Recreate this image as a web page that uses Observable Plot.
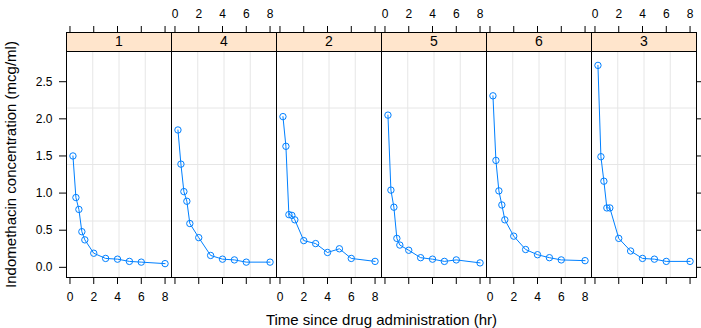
<!DOCTYPE html>
<html>
<head>
<meta charset="utf-8">
<script src="https://cdn.jsdelivr.net/npm/d3@7"></script>
<script src="https://cdn.jsdelivr.net/npm/@observablehq/plot@0.6"></script>
<style>
  body { margin: 0; background: #fff; }
</style>
</head>
<body>
<div id="chart"></div>
<script>
// Panel order (subjects ordered by maximum concentration)
const subjects = ["1", "4", "2", "5", "6", "3"];
// Sampling times (hr)
const times = [0.25, 0.5, 0.75, 1, 1.25, 2, 3, 4, 5, 6, 8];
// Concentrations (mcg/ml) per subject
const conc1 = [1.50, 0.94, 0.78, 0.48, 0.37, 0.19, 0.12, 0.11, 0.08, 0.07, 0.05];
const conc2 = [2.03, 1.63, 0.71, 0.70, 0.64, 0.36, 0.32, 0.20, 0.25, 0.12, 0.08];
const conc3 = [2.72, 1.49, 1.16, 0.80, 0.80, 0.39, 0.22, 0.12, 0.11, 0.08, 0.08];
const conc4 = [1.85, 1.39, 1.02, 0.89, 0.59, 0.40, 0.16, 0.11, 0.10, 0.07, 0.07];
const conc5 = [2.05, 1.04, 0.81, 0.39, 0.30, 0.23, 0.13, 0.11, 0.08, 0.10, 0.06];
const conc6 = [2.31, 1.44, 1.03, 0.84, 0.64, 0.42, 0.24, 0.17, 0.13, 0.10, 0.09];
// Tick labels
const xTicks = [0, 2, 4, 6, 8];
const yTicks = [0, 0.5, 1, 1.5, 2, 2.5];
const xLabel = "Time since drug administration (hr)";
const yLabel = "Indomethacin concentration (mcg/ml)";

const concBySubject = {"1": conc1, "2": conc2, "3": conc3, "4": conc4, "5": conc5, "6": conc6};
const data = [];
for (const s of subjects) {
  concBySubject[s].forEach((c, i) => data.push({subject: s, time: times[i], conc: c}));
}

// lattice-style padded limits (7% of range on each side)
function padded(ext) { const p = (ext[1] - ext[0]) * 0.07; return [ext[0] - p, ext[1] + p]; }
const xDom = padded(d3.extent(data, d => d.time));
const yDom = padded(d3.extent(data, d => d.conc));
// panel.grid(h = 3, v = 3): equally spaced reference lines
const gridX = [1, 2, 3].map(k => xDom[0] + k * (xDom[1] - xDom[0]) / 4);
const gridY = [1, 2, 3].map(k => yDom[0] + k * (yDom[1] - yDom[0]) / 4);

// tick labels alternate: bottom on panels 1,3,5; top on panels 2,4,6
const bottomLabels = [], topLabels = [];
subjects.forEach((s, i) => xTicks.forEach(t => (i % 2 === 0 ? bottomLabels : topLabels).push({subject: s, t})));

const H = 328, MT = 51, MB = 51, FH = H - MT - MB;
const blue = "#0080ff";

const chart = Plot.plot({
  width: 701,
  height: H,
  marginLeft: 65,
  marginRight: 4,
  marginTop: MT,
  marginBottom: MB,
  style: {fontFamily: "'Liberation Sans', Arial, Helvetica, sans-serif", background: "white", color: "black"},
  fx: {domain: subjects, padding: 0, axis: null, label: null},
  x: {domain: xDom, label: null},
  y: {domain: yDom, label: null},
  marks: [
    Plot.ruleX(gridX, {stroke: "#e6e6e6", strokeWidth: 1}),
    Plot.ruleY(gridY, {stroke: "#e6e6e6", strokeWidth: 1}),
    Plot.line(data, {x: "time", y: "conc", fx: "subject", stroke: blue, strokeWidth: 1}),
    Plot.dot(data, {x: "time", y: "conc", fx: "subject", r: 3.2, stroke: blue, fill: "none", strokeWidth: 1}),
    Plot.frame({stroke: "black", strokeWidth: 1}),
    // strips
    Plot.frame({fill: "#ffe5cc", stroke: "black", strokeWidth: 1, insetTop: -19, insetBottom: FH}),
    Plot.text(subjects, {fx: d => d, text: d => d, frameAnchor: "top", lineAnchor: "middle", dy: -9.5, fontSize: 14, fontWeight: "normal", fill: "black"}),
    // axes
    Plot.axisY(yTicks, {anchor: "left", tickSize: 7, tickPadding: 7, fontSize: 12, tickFormat: d3.format(".1f"), label: null}),
    Plot.axisY(yTicks, {anchor: "right", tickSize: 6, tickFormat: () => "", label: null}),
    Plot.axisX(xTicks, {anchor: "bottom", tickSize: 7, tickFormat: () => "", label: null}),
    Plot.axisX(xTicks, {anchor: "top", tickSize: 7, dy: -19, tickFormat: () => "", label: null}),
    Plot.text(bottomLabels, {x: "t", fx: "subject", text: d => String(d.t), frameAnchor: "bottom", lineAnchor: "middle", dy: 20, fontSize: 12}),
    Plot.text(topLabels, {x: "t", fx: "subject", text: d => String(d.t), frameAnchor: "top", lineAnchor: "middle", dy: -37, fontSize: 12}),
    // axis titles
    Plot.text([xLabel], {facet: "super", frameAnchor: "bottom", lineAnchor: "middle", dy: 43, fontSize: 15, text: d => d}),
    Plot.text([yLabel], {facet: "super", frameAnchor: "left", textAnchor: "middle", lineAnchor: "middle", dx: -55, rotate: -90, fontSize: 15, text: d => d})
  ]
});
document.getElementById("chart").appendChild(chart);
</script>
</body>
</html>
